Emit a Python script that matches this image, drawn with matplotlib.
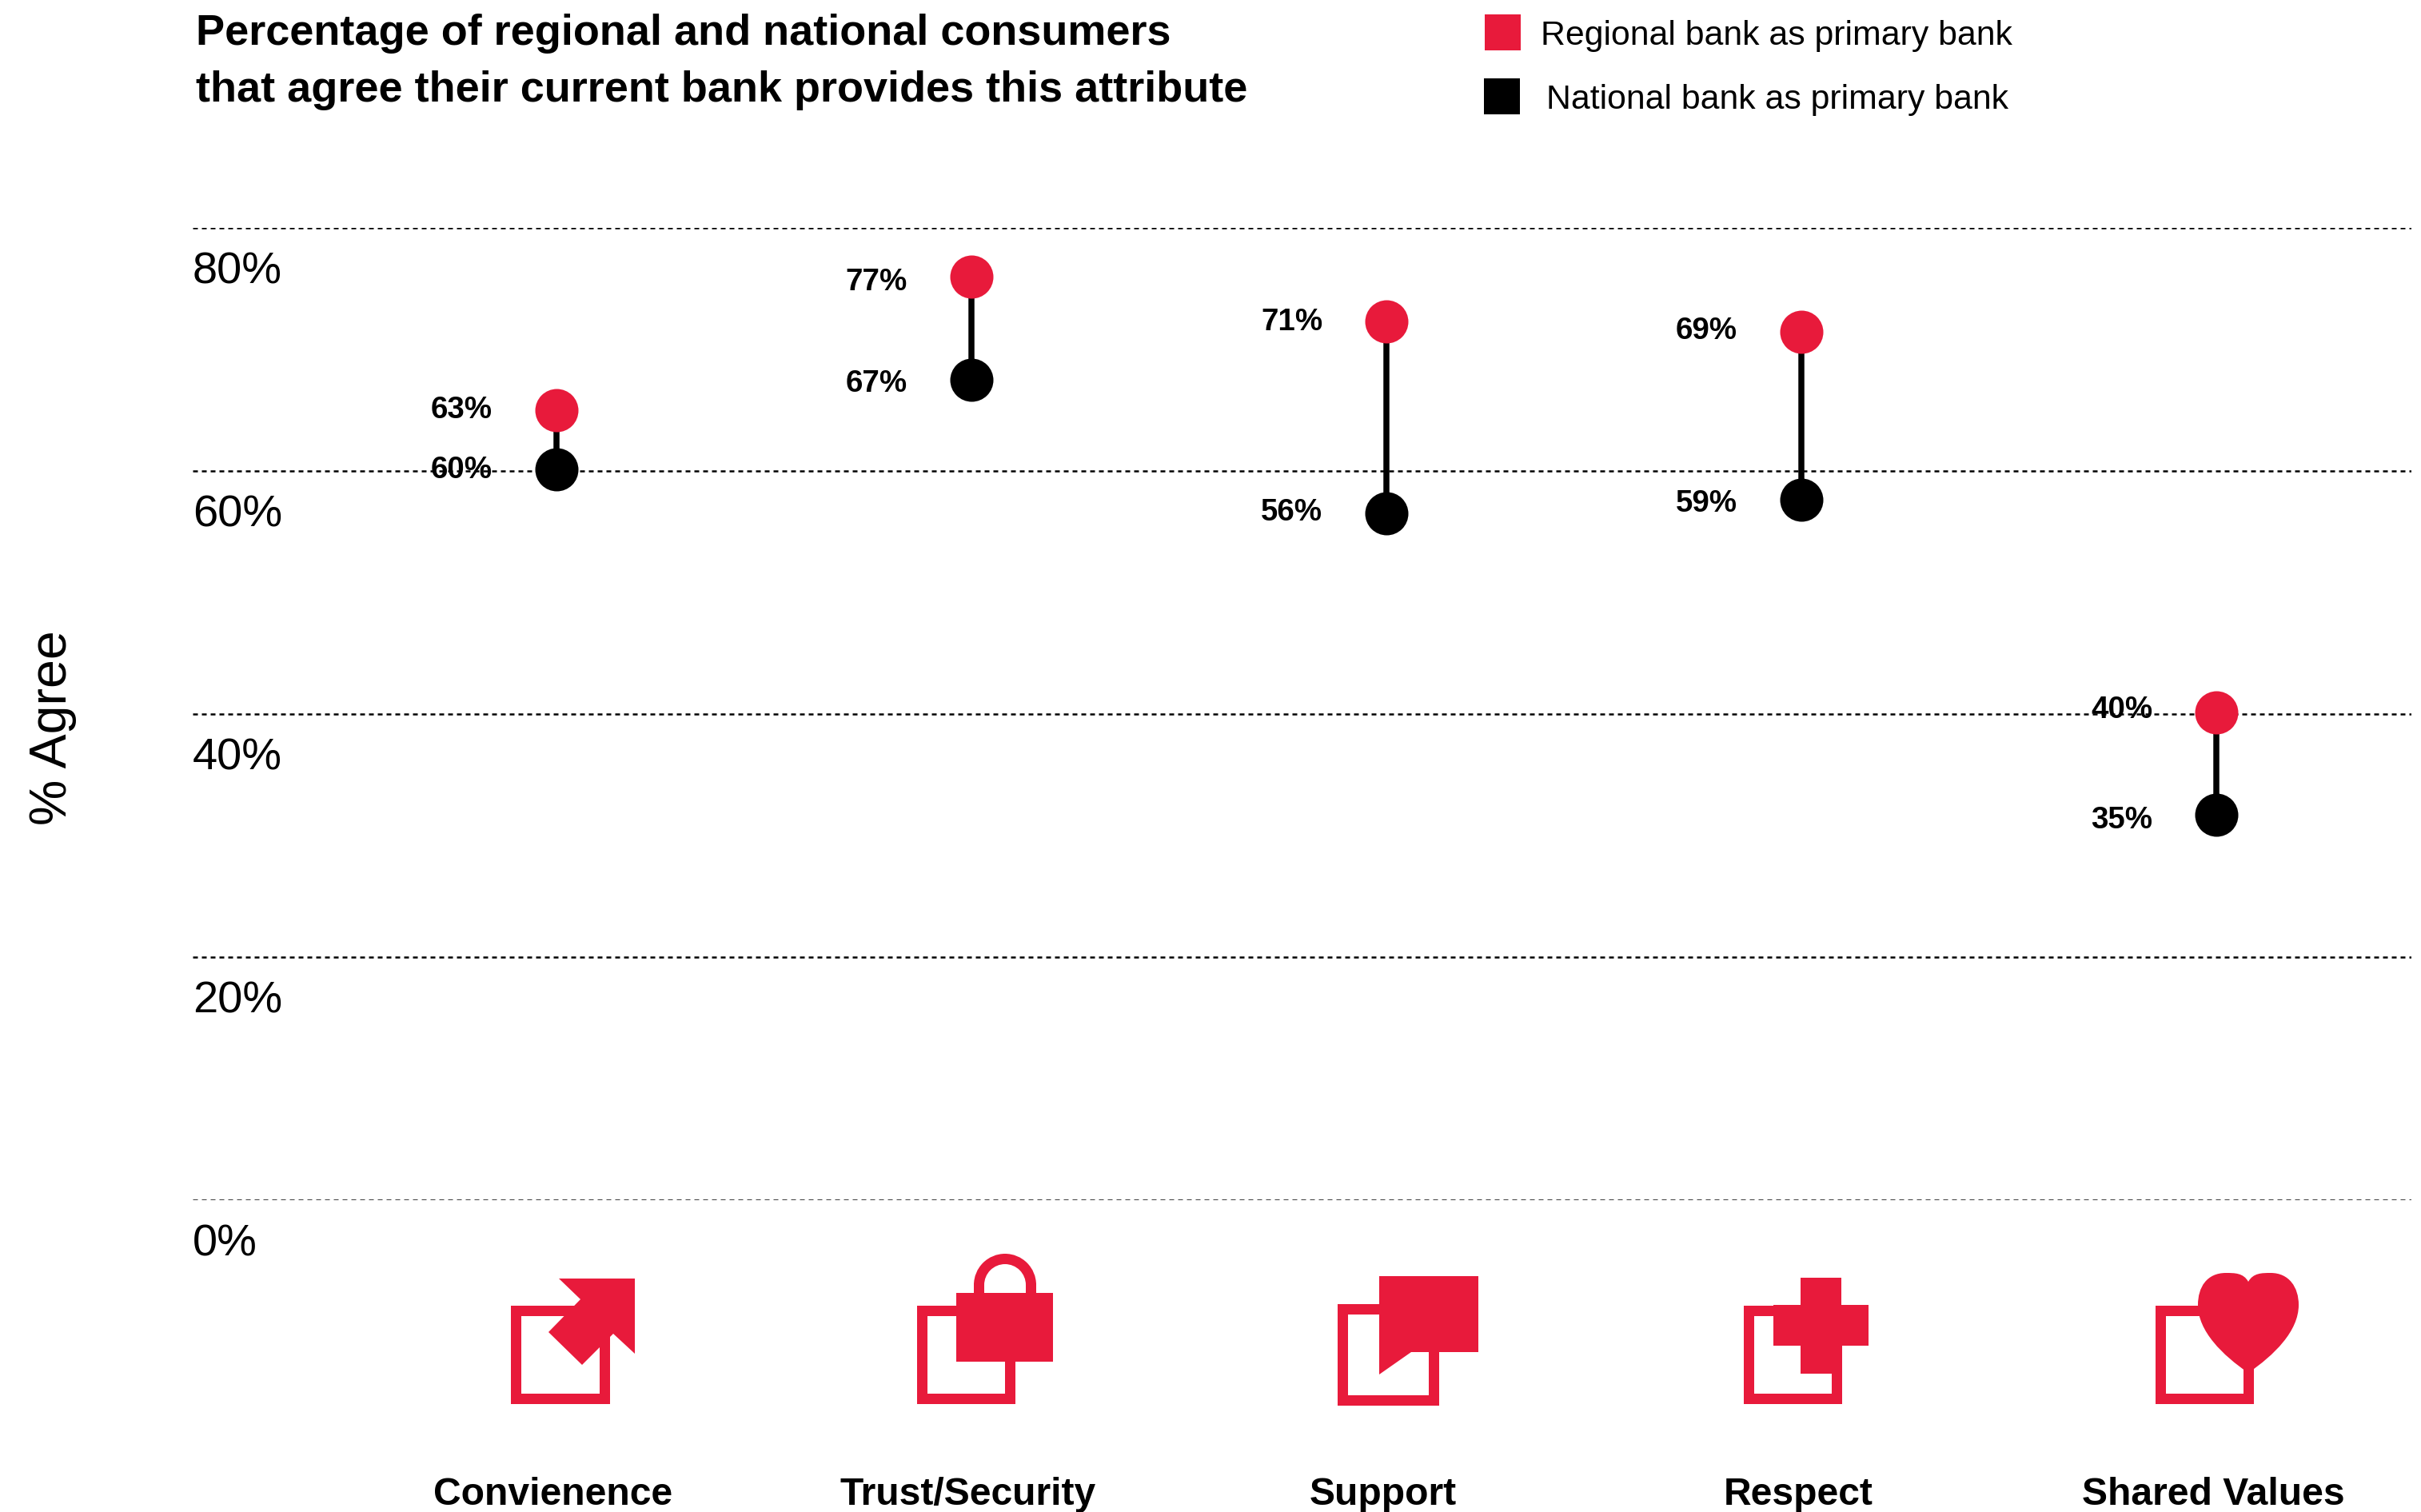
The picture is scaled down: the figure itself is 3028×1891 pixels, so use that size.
import matplotlib
matplotlib.use("Agg")
import matplotlib.pyplot as plt
from matplotlib.patches import Rectangle, Polygon, PathPatch, Wedge
from matplotlib.path import Path
from matplotlib.transforms import ScaledTranslation

plt.rcParams['font.family'] = ['Liberation Sans', 'DejaVu Sans']

categories = ["Convienence", "Trust/Security", "Support", "Respect", "Shared Values"]

# where the dots sit on the axis (they do not quite follow the printed labels)
regional_pos = [65.0, 76.0, 72.3, 71.4, 40.1]
national_pos = [60.1, 67.5, 56.5, 57.6, 31.7]

# what the labels say
regional_labels = ["63%", "77%", "71%", "69%", "40%"]
national_labels = ["60%", "67%", "56%", "59%", "35%"]

# labels are not exactly level with their dots, pixels downwards
regional_nudge = [0, 7, 1, -1, -3]
national_nudge = [1, 5, -1, 5, 7]

y_ticks = [0, 20, 40, 60, 80]
y_tick_labels = ["0%", "20%", "40%", "60%", "80%"]

RED = "#E81A3B"
W, H = 3028, 1891
DPI = 100


def px(n):
    # pixels to points
    return n * 72 / DPI


fig = plt.figure(figsize=(W / DPI, H / DPI), dpi=DPI, facecolor="white")

# main axes: left edge, bottom and 80% line
ax = fig.add_axes([241 / W, 1 - 1501.3 / H, (3016 - 241) / W, (1501.3 - 284.7) / H])
ax.set_xlim(-0.8767, 4.470)
ax.set_ylim(0, 80)
for s in ax.spines.values():
    s.set_visible(False)

ax.set_yticks(y_ticks)
ax.set_yticklabels(y_tick_labels, fontsize=px(56), ha="left", va="center")
ax.tick_params(axis="y", length=0, pad=0)
shift = ScaledTranslation(0, -55.5 / DPI, fig.dpi_scale_trans)
for lab in ax.get_yticklabels():
    lab.set_transform(lab.get_transform() + shift)
ax.grid(axis="y", color="black", linewidth=px(2.5), linestyle=(0, (2.4, 2)))
ax.set_axisbelow(True)

xs = list(range(len(categories)))
ax.set_xticks(xs)
ax.set_xticklabels(categories, fontsize=px(48), fontweight="bold", va="top")
ax.tick_params(axis="x", length=0, pad=px(346))
shift_x = ScaledTranslation(-4 / DPI, 0, fig.dpi_scale_trans)
for lab in ax.get_xticklabels():
    lab.set_transform(lab.get_transform() + shift_x)

ax.set_ylabel("% Agree", fontsize=px(64.5), va="center", rotation=90)
ax.yaxis.set_label_coords(-0.063, 0.486)

# stems and dots
ax.vlines(xs, national_pos, regional_pos, color="black", linewidth=px(7.5), zorder=3)
ax.scatter(xs, regional_pos, s=px(54) ** 2, color=RED, linewidths=0, zorder=4, clip_on=False)
ax.scatter(xs, national_pos, s=px(54) ** 2, color="black", linewidths=0, zorder=4, clip_on=False)

for i in xs:
    ax.annotate(regional_labels[i], (i, regional_pos[i]), xytext=(px(-80), px(-regional_nudge[i])),
                textcoords="offset points", ha="right", va="center",
                fontsize=px(38.5), fontweight="bold", zorder=5)
    ax.annotate(national_labels[i], (i, national_pos[i]), xytext=(px(-80), px(-national_nudge[i])),
                textcoords="offset points", ha="right", va="center",
                fontsize=px(38.5), fontweight="bold", zorder=5)

# overlay in image pixels for the title, legend and the pictograms
ov = fig.add_axes([0, 0, 1, 1], facecolor="none")
ov.set_xlim(0, W)
ov.set_ylim(H, 0)
ov.axis("off")

ov.text(245, 42, "Percentage of regional and national consumers", fontsize=px(54),
        fontweight="bold", va="center", ha="left")
ov.text(245, 113, "that agree their current bank provides this attribute", fontsize=px(54),
        fontweight="bold", va="center", ha="left")

ov.add_patch(Rectangle((1857, 18), 45, 45, color=RED, linewidth=0))
ov.add_patch(Rectangle((1856, 98), 45, 45, color="black", linewidth=0))
ov.text(1927, 45, "Regional bank as primary bank", fontsize=px(42.8), va="center", ha="left")
ov.text(1934, 125, "National bank as primary bank", fontsize=px(42.8), va="center", ha="left")


def box(x0, y0, x1, y1, t=13):
    # red open square behind every pictogram, outer edges given
    ov.add_patch(Rectangle((x0 + t / 2, y0 + t / 2), x1 - x0 - t, y1 - y0 - t, fill=False,
                           edgecolor=RED, linewidth=px(t), joinstyle="miter"))


def poly(pts):
    ov.add_patch(Polygon(pts, closed=True, color=RED, linewidth=0))


# Convenience: arrow
box(638, 1632, 762, 1755)
poly([(699, 1599), (794, 1599), (794, 1693), (767, 1668), (728, 1707), (686, 1666), (726, 1625)])

# Trust: padlock
box(1146, 1632, 1269, 1755)
ov.add_patch(Wedge((1257, 1607), 39, 180, 360, width=13, color=RED, linewidth=0))
ov.add_patch(Rectangle((1218, 1605), 13, 15, color=RED, linewidth=0))
ov.add_patch(Rectangle((1283, 1605), 13, 15, color=RED, linewidth=0))
ov.add_patch(Rectangle((1196, 1617), 121, 86, color=RED, linewidth=0))

# Support: speech bubble
box(1672, 1630, 1799, 1757)
poly([(1725, 1596), (1849, 1596), (1849, 1691), (1765, 1691), (1725, 1719)])

# Respect: cross
box(2180, 1632, 2303, 1755)
ov.add_patch(Rectangle((2252, 1598), 51, 120, color=RED, linewidth=0))
ov.add_patch(Rectangle((2218, 1632), 119, 51, color=RED, linewidth=0))

# Shared values: heart
box(2695, 1632, 2818, 1755)
verts = [(2812, 1603),
         (2806, 1592), (2795, 1592), (2784, 1592),
         (2760, 1592), (2749, 1610), (2749, 1632),
         (2749, 1665), (2780, 1695), (2812, 1717),
         (2844, 1695), (2875, 1665), (2875, 1632),
         (2875, 1610), (2863, 1592), (2840, 1592),
         (2829, 1592), (2818, 1592), (2812, 1603)]
codes = [Path.MOVETO] + [Path.CURVE4] * 18
ov.add_patch(PathPatch(Path(verts, codes), facecolor=RED, edgecolor="none"))

fig.savefig("out.png", dpi=DPI)
